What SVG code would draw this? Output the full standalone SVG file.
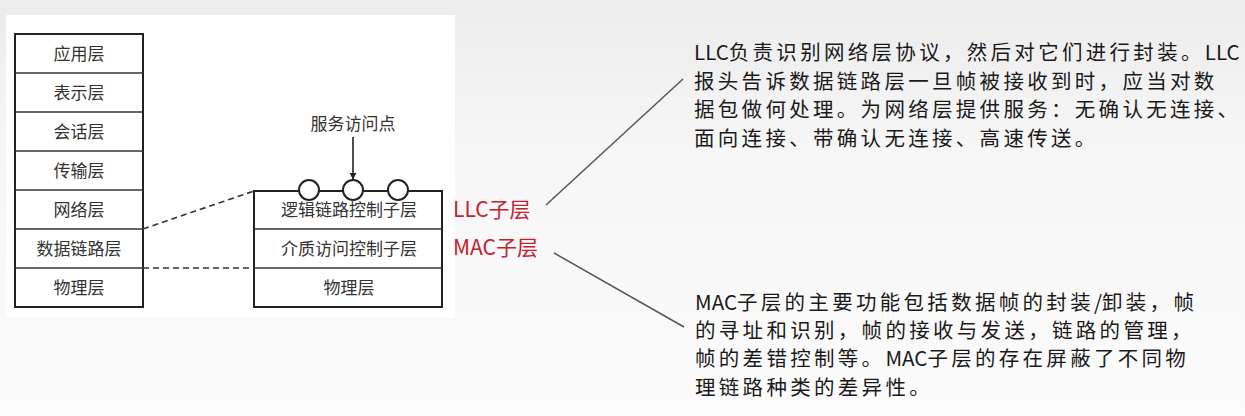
<svg xmlns="http://www.w3.org/2000/svg" width="1245" height="416" viewBox="0 0 1245 416">
<defs>
<linearGradient id="bg" x1="0" y1="0" x2="0" y2="1">
<stop offset="0" stop-color="#ececec"/>
<stop offset="0.35" stop-color="#f6f6f6"/>
<stop offset="1" stop-color="#fbfbfb"/>
</linearGradient>
<marker id="arr" viewBox="0 0 10 10" refX="9" refY="5" markerWidth="7" markerHeight="9" markerUnits="userSpaceOnUse" orient="auto">
<path d="M0,0 L10,5 L0,10 Z" fill="#222"/>
</marker>
<style>
.box{fill:#fff;stroke:#222;stroke-width:2}
.sep{stroke:#333;stroke-width:1.6}
.lt{font-family:"Noto Sans CJK SC","Noto Sans CJK JP",sans-serif;font-size:17px;fill:#333;text-anchor:middle}
.red{font-family:"Noto Sans CJK SC",sans-serif;font-size:21px;fill:#c4202e}
.para{font-family:"Noto Sans CJK SC",sans-serif;font-size:20.5px;fill:#1a1a1a;letter-spacing:3.3px}
.lat{letter-spacing:0px}
.dash{stroke:#333;stroke-width:1.6;stroke-dasharray:6 4;fill:none}
.conn{stroke:#555;stroke-width:1.5;fill:none}
.sap{fill:#fff;stroke:#222;stroke-width:2}
</style>
</defs>
<rect x="0" y="0" width="1245" height="416" fill="url(#bg)"/>
<rect x="6" y="15" width="449" height="302" fill="#fff"/>

<g id="osi-stack">
<rect class="box" x="15" y="34" width="128" height="273"/>
<line class="sep" x1="15" y1="73" x2="143" y2="73"/>
<line class="sep" x1="15" y1="112" x2="143" y2="112"/>
<line class="sep" x1="15" y1="151" x2="143" y2="151"/>
<line class="sep" x1="15" y1="190" x2="143" y2="190"/>
<line class="sep" x1="15" y1="229" x2="143" y2="229"/>
<line class="sep" x1="15" y1="268" x2="143" y2="268"/>
<text class="lt" x="79" y="60">应用层</text>
<text class="lt" x="79" y="99">表示层</text>
<text class="lt" x="79" y="138">会话层</text>
<text class="lt" x="79" y="177">传输层</text>
<text class="lt" x="79" y="216">网络层</text>
<text class="lt" x="79" y="255">数据链路层</text>
<text class="lt" x="79" y="294">物理层</text>
</g>

<g id="sublayers">
<rect class="box" x="254" y="191" width="188" height="116"/>
<line class="sep" x1="254" y1="229" x2="442" y2="229"/>
<line class="sep" x1="254" y1="268" x2="442" y2="268"/>
<text class="lt" x="349" y="216">逻辑链路控制子层</text>
<text class="lt" x="349" y="255">介质访问控制子层</text>
<text class="lt" x="349" y="294">物理层</text>
</g>

<g id="sap-points">
<circle class="sap" cx="309" cy="190" r="10"/>
<circle class="sap" cx="353" cy="190" r="10"/>
<circle class="sap" cx="398" cy="190" r="10"/>
<text class="lt" x="353" y="130">服务访问点</text>
</g>

<g id="llc-label"><text class="red" x="453" y="217">LLC子层</text></g>
<g id="mac-label"><text class="red" x="453" y="255">MAC子层</text></g>

<g id="llc-desc">
<text class="para" x="694" y="60"><tspan class="lat">LLC</tspan>负责识别网络层协议，然后对它们进行封装。<tspan class="lat">LLC</tspan></text>
<text class="para" x="694" y="89">报头告诉数据链路层一旦帧被接收到时，应当对数</text>
<text class="para" x="694" y="117">据包做何处理。为网络层提供服务：无确认无连接、</text>
<text class="para" x="694" y="146">面向连接、带确认无连接、高速传送。</text>
</g>

<g id="mac-desc">
<text class="para" x="695" y="310"><tspan class="lat">MAC</tspan>子层的主要功能包括数据帧的封装<tspan class="lat">/</tspan>卸装，帧</text>
<text class="para" x="695" y="338">的寻址和识别，帧的接收与发送，链路的管理，</text>
<text class="para" x="695" y="366">帧的差错控制等。<tspan class="lat">MAC</tspan>子层的存在屏蔽了不同物</text>
<text class="para" x="695" y="395">理链路种类的差异性。</text>
</g>

<g id="connectors">
<line class="dash" x1="143" y1="229" x2="254" y2="191"/>
<line class="dash" x1="143" y1="268" x2="254" y2="268"/>
<line x1="353" y1="137" x2="353" y2="179" stroke="#222" stroke-width="1.6" marker-end="url(#arr)"/>
<line class="conn" x1="546" y1="205" x2="683" y2="79"/>
<line class="conn" x1="554" y1="253" x2="684" y2="327"/>
</g>
</svg>
